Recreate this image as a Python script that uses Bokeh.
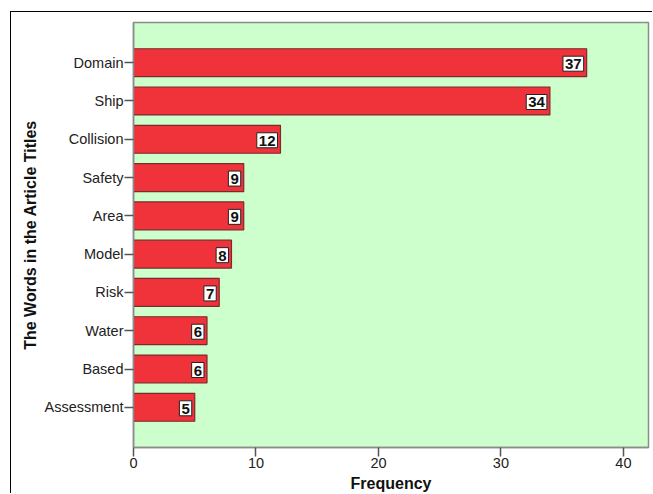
from bokeh.plotting import figure
from bokeh.models import ColumnDataSource, Range1d, FixedTicker
from bokeh.core.properties import value
from bokeh.embed import file_html
from bokeh.resources import INLINE

words = ["Domain", "Ship", "Collision", "Safety", "Area", "Model", "Risk", "Water", "Based", "Assessment"]
freq = [37, 34, 12, 9, 9, 8, 7, 6, 6, 5]
x_ticks = [0, 10, 20, 30, 40]

pos = list(range(len(words)))
src = ColumnDataSource(dict(y=pos, x=freq, label=[str(v) for v in freq]))

FONT = "Liberation Sans"

p = figure(width=642, height=482, output_backend="svg", toolbar_location=None,
           x_range=Range1d(0, 42.05), y_range=Range1d(len(words) - 1 + 1.05, -1.05),
           min_border_left=122, min_border_right=5, min_border_top=10, min_border_bottom=46,
           margin=(11, 0, 0, 10),
           styles={"border-top": "1px solid black", "border-left": "1px solid black"})
p.background_fill_color = "#ccffcc"
p.border_fill_color = "white"
p.outline_line_color = "#8c8c8c"
p.outline_line_width = 1.5
p.grid.visible = False

p.hbar(y="y", right="x", left=0, height=0.73, source=src,
       fill_color="#f0333b", line_color="#7a2a2a", line_width=1.2)

p.text(x="x", y="y", text="label", source=src, text_align="right",
       text_baseline="middle", x_offset=-3, y_offset=1,
       text_font=value(FONT), text_font_size="15px", text_font_style="bold",
       text_color="#111111", background_fill_color="white",
       border_line_color="#222222", border_line_width=1,
       padding=dict(left=2, right=2, top=3, bottom=2))

p.xaxis.ticker = FixedTicker(ticks=x_ticks)
p.yaxis.ticker = FixedTicker(ticks=pos)
p.yaxis.major_label_overrides = {i: w for i, w in enumerate(words)}

for ax in (p.xaxis[0], p.yaxis[0]):
    ax.axis_line_color = "#8c8c8c"
    ax.axis_line_width = 1.5
    ax.major_tick_line_color = "#555555"
    ax.major_tick_line_width = 1.5
    ax.major_tick_out = 9
    ax.major_tick_in = 0
    ax.minor_tick_line_color = None
    ax.major_label_text_font = FONT
    ax.major_label_text_font_size = "14.5px"
    ax.major_label_text_color = "#222222"
    ax.axis_label_text_font = FONT
    ax.axis_label_text_font_size = "16px"
    ax.axis_label_text_font_style = "bold"
    ax.axis_label_text_color = "#111111"

p.xaxis.axis_label = "Frequency"
p.yaxis.axis_label = "The Words in the Article Titles"
p.xaxis.major_label_standoff = 1
p.xaxis.axis_label_standoff = 4
p.yaxis.major_label_standoff = 1
p.yaxis.axis_label_standoff = 3

open("out.html", "w").write(file_html(p, INLINE))
